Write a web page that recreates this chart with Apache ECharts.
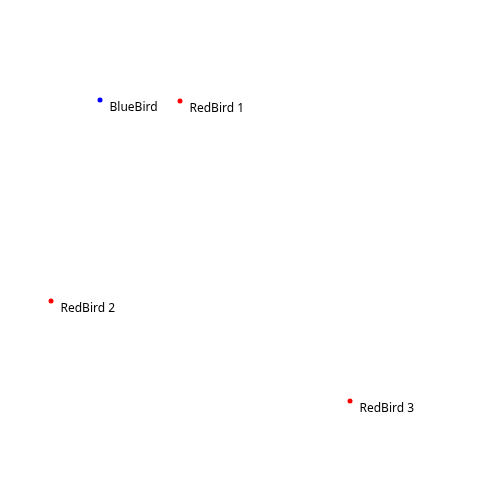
<!DOCTYPE html>
<html><head><meta charset="utf-8">
<script src="https://cdn.jsdelivr.net/npm/echarts@6/dist/echarts.min.js"></script>
<style>html,body{margin:0;padding:0;background:#fff}#c{width:500px;height:500px}</style>
</head><body><div id="c"></div>
<script>
const names = ["BlueBird", "RedBird 1", "RedBird 2", "RedBird 3"];
const xValues = [100, 180, 51, 350];
const yValues = [100, 101, 301, 401];
const colors = ["#0000ff", "#ff0000", "#ff0000", "#ff0000"];

const chart = echarts.init(document.getElementById('c'));
chart.setOption({
  animation: false,
  grid: {left: 0, right: 0, top: 0, bottom: 0},
  xAxis: {type: 'value', min: 0, max: 500, show: false},
  yAxis: {type: 'value', min: 0, max: 500, inverse: true, show: false},
  series: [{
    type: 'scatter',
    symbolSize: 5,
    data: names.map((n, i) => ({
      name: n,
      value: [xValues[i], yValues[i]],
      itemStyle: {color: colors[i], opacity: 1}
    })),
    label: {
      show: true,
      position: 'right',
      distance: 7,
      offset: [0, 7.5],
      formatter: p => p.name,
      color: '#000',
      fontSize: 12,
      fontFamily: 'Noto Sans'
    }
  }]
});
</script></body></html>
